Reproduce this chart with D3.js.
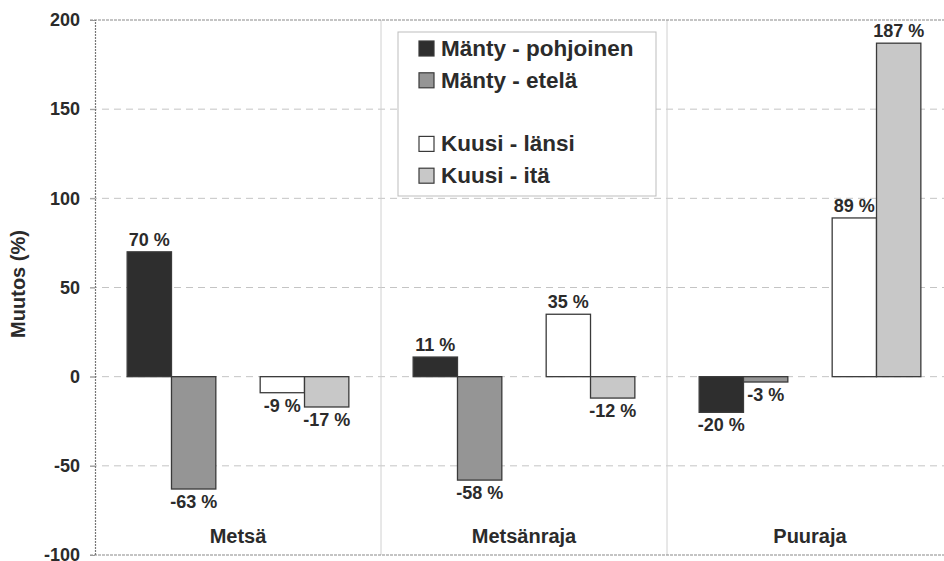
<!DOCTYPE html>
<html>
<head>
<meta charset="utf-8">
<script src="https://cdn.jsdelivr.net/npm/d3@7"></script>
<style>
  body { margin: 0; background: #fff; }
  text { font-family: Arial, "Liberation Sans", sans-serif; font-weight: bold; fill: #2b2b2b; }
</style>
</head>
<body>
<div id="chart"></div>
<script>
// Data
var categories = ['Metsä', 'Metsänraja', 'Puuraja'];
var seriesNames = ['Mänty - pohjoinen', 'Mänty - etelä', '', 'Kuusi - länsi', 'Kuusi - itä'];
var mantyPohjoinen = [70, 11, -20];
var mantyEtela = [-63, -58, -3];
var kuusiLansi = [-9, 35, 89];
var kuusiIta = [-17, -12, 187];
var yTicks = [-100, -50, 0, 50, 100, 150, 200];

// blank series keeps the gap between pine and spruce bars
var seriesValues = [mantyPohjoinen, mantyEtela, null, kuusiLansi, kuusiIta];
var fills = ['#2e2e2e', '#959595', 'none', '#ffffff', '#c8c8c8'];

var width = 944;
var height = 561;
var plotLeft = 95, plotTop = 20, plotBottom = 555, plotRight = 953;

var svg = d3.select('#chart')
            .append('svg')
            .attr('width', width)
            .attr('height', height);

// Scales
var y = d3.scaleLinear()
          .domain([-100, 200])
          .range([plotBottom, plotTop]);
var x0 = d3.scaleBand()
           .domain(categories)
           .range([plotLeft, plotRight]);
var slot = x0.bandwidth() / (seriesNames.length + 1.45);
var x1 = d3.scaleBand()
           .domain(d3.range(seriesNames.length))
           .range([slot * 0.725, x0.bandwidth() - slot * 0.725]);

// Grid lines
svg.append('g')
   .selectAll('line')
   .data(yTicks.filter(function (t) { return t > -100 && t < 200; }))
   .enter()
   .append('line')
   .attr('x1', plotLeft - 5)
   .attr('x2', plotRight)
   .attr('y1', function (d) { return y(d); })
   .attr('y2', function (d) { return y(d); })
   .attr('stroke', '#c4c4c4')
   .attr('stroke-dasharray', '7,5');

// Group separators
svg.append('g')
   .selectAll('line')
   .data(categories.slice(1))
   .enter()
   .append('line')
   .attr('x1', function (d) { return x0(d); })
   .attr('x2', function (d) { return x0(d); })
   .attr('y1', plotTop)
   .attr('y2', plotBottom)
   .attr('stroke', '#d0d0d0');

// Frame top and bottom
svg.append('g')
   .selectAll('line')
   .data([200, -100])
   .enter()
   .append('line')
   .attr('x1', plotLeft - 5)
   .attr('x2', plotRight)
   .attr('y1', function (d) { return y(d); })
   .attr('y2', function (d) { return y(d); })
   .attr('stroke', '#8a8a8a')
   .attr('stroke-width', 1.2)
   .attr('stroke-dasharray', '3,1');

// Y axis
var axis = svg.append('g')
              .attr('transform', 'translate(' + plotLeft + ',0)')
              .call(d3.axisLeft(y)
                      .tickValues(yTicks)
                      .tickSize(5)
                      .tickPadding(10)
                      .tickFormat(function (d) { return String(d); }));
axis.select('.domain')
    .attr('stroke', '#777')
    .attr('stroke-dasharray', '2,1')
    .attr('stroke-width', 1.2);
axis.selectAll('.tick line')
    .attr('stroke', '#999');
axis.selectAll('.tick text')
    .attr('font-size', 18)
    .attr('font-family', 'Arial, "Liberation Sans", sans-serif')
    .attr('fill', '#2b2b2b');

// Bars
var points = [];
categories.forEach(function (c, ci) {
  seriesValues.forEach(function (vals, si) {
    if (vals) points.push({ cat: c, s: si, value: vals[ci] });
  });
});

var bars = svg.append('g')
              .selectAll('g')
              .data(points)
              .enter()
              .append('g');

bars.append('rect')
    .attr('x', function (d) { return x0(d.cat) + x1(d.s); })
    .attr('width', x1.bandwidth())
    .attr('y', function (d) { return y(Math.max(0, d.value)); })
    .attr('height', function (d) { return Math.abs(y(d.value) - y(0)); })
    .attr('fill', function (d) { return fills[d.s]; })
    .attr('stroke', '#3a3a3a')
    .attr('stroke-width', 1.3);

bars.append('text')
    .attr('x', function (d) { return x0(d.cat) + x1(d.s) + x1.bandwidth() / 2; })
    .attr('y', function (d) { return d.value >= 0 ? y(d.value) - 6 : y(d.value) + 19; })
    .attr('text-anchor', 'middle')
    .attr('font-size', 18)
    .text(function (d) { return d.value + ' %'; });

// Category labels
svg.append('g')
   .selectAll('text')
   .data(categories)
   .enter()
   .append('text')
   .attr('x', function (d) { return x0(d) + x0.bandwidth() / 2; })
   .attr('y', 543)
   .attr('text-anchor', 'middle')
   .attr('font-size', 20)
   .text(function (d) { return d; });

// Y axis title
svg.append('text')
   .attr('transform', 'translate(25,284) rotate(-90)')
   .attr('text-anchor', 'middle')
   .attr('font-size', 20)
   .text('Muutos (%)');

// Legend
var legend = svg.append('g')
                .attr('transform', 'translate(398,32)');
legend.append('rect')
      .attr('width', 258)
      .attr('height', 164)
      .attr('fill', '#fff')
      .attr('stroke', '#bdbdbd');
var item = legend.selectAll('.item')
                 .data(seriesNames.map(function (n, i) { return { name: n, i: i }; })
                                  .filter(function (d) { return d.name; }))
                 .enter()
                 .append('g')
                 .attr('class', 'item')
                 .attr('transform', function (d) { return 'translate(21,' + (23 + d.i * 31.8) + ')'; });
item.append('rect')
    .attr('x', 0)
    .attr('y', -14)
    .attr('width', 15)
    .attr('height', 15)
    .attr('fill', function (d) { return fills[d.i]; })
    .attr('stroke', '#3a3a3a')
    .attr('stroke-width', 1.2);
item.append('text')
    .attr('x', 22)
    .attr('y', 1)
    .attr('font-size', 22.5)
    .text(function (d) { return d.name; });
</script>
</body>
</html>
